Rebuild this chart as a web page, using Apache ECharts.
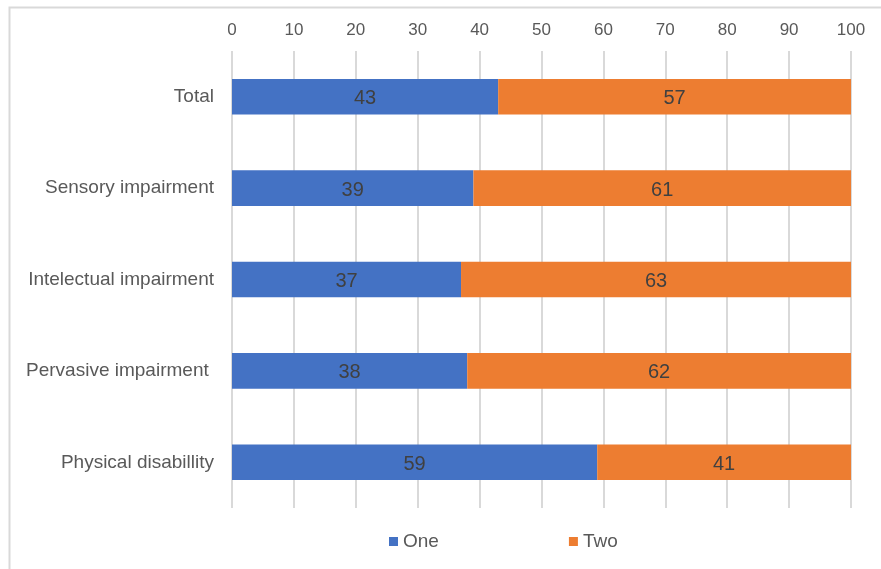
<!DOCTYPE html>
<html><head><meta charset="utf-8">
<script src="https://cdn.jsdelivr.net/npm/echarts@6/dist/echarts.min.js"></script>
<style>html,body{margin:0;padding:0;background:#fff}#c{width:881px;height:569px}</style>
</head><body><div id="c"></div>
<script>
const categories = ['Total','Sensory impairment','Intelectual impairment','Pervasive impairment ','Physical disabillity'];
const seriesNames = ['One','Two'];
const oneValues = [43,39,37,38,59];
const twoValues = [57,61,63,62,41];
const chart = echarts.init(document.getElementById('c'));
const font = '"Liberation Sans", Arial, sans-serif';
chart.setOption({
  animation:false,
  textStyle:{fontFamily:font},
  graphic:[{type:'rect',shape:{x:9.5,y:7.5,width:900,height:600},style:{fill:'none',stroke:'#d9d9d9',lineWidth:2},silent:true,z:-1}],
  grid:{left:232,right:30,top:51,bottom:61},
  legend:{data:seriesNames,top:527,left:384,itemGap:130,itemWidth:9,itemHeight:9,icon:'rect',
    textStyle:{fontSize:19,color:'#595959',fontFamily:font}},
  xAxis:{type:'value',position:'top',min:0,max:100,interval:10,
    axisLine:{show:false},axisTick:{show:false},
    axisLabel:{fontSize:17,color:'#595959',margin:12,fontFamily:font},
    splitLine:{lineStyle:{color:'#d9d9d9',width:2}}},
  yAxis:{type:'category',inverse:true,data:categories,
    axisLine:{show:false},axisTick:{show:false},
    axisLabel:{fontSize:19,color:'#595959',margin:18,fontFamily:font,padding:[3,0,0,0]}},
  series:[
    {name:seriesNames[0],type:'bar',stack:'a',data:oneValues,barWidth:'39%',itemStyle:{color:'#4472C4'},
      label:{show:true,position:'inside',fontSize:20,color:'#404040',fontFamily:font,offset:[0,2]}},
    {name:seriesNames[1],type:'bar',stack:'a',data:twoValues,barWidth:'39%',itemStyle:{color:'#ED7D31'},
      label:{show:true,position:'inside',fontSize:20,color:'#404040',fontFamily:font,offset:[0,2]}}
  ]
});
</script></body></html>
